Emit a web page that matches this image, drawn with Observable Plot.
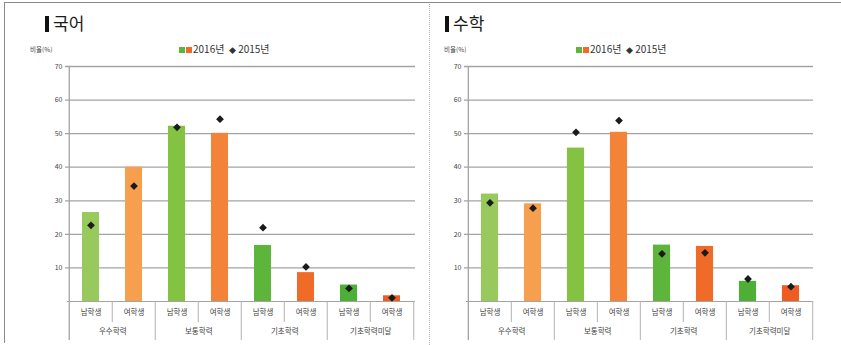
<!DOCTYPE html>
<html>
<head>
<meta charset="utf-8">
<script src="https://cdn.jsdelivr.net/npm/d3@7"></script>
<script src="https://cdn.jsdelivr.net/npm/@observablehq/plot@0.6"></script>
<style>
  html, body { margin: 0; padding: 0; background: #fff; }
  #wrap { position: relative; width: 841px; height: 345px; overflow: hidden; background: #fff;
          font-family: "Noto Sans CJK KR", "Noto Sans", sans-serif; color: #333; }
  .abs { position: absolute; }
  .title { font-size: 17px; color: #1a1a1a; line-height: 20px; white-space: nowrap; }
  .title .bar { display: inline-block; width: 4px; height: 16px; background: #111; vertical-align: -2px; margin-right: 4px; }
  .legend { font-size: 10px; color: #333; line-height: 12px; white-space: nowrap; }
  .legend .sq { display: inline-block; width: 6px; height: 6px; vertical-align: 0px; margin-right: 1px; }
  .ylab { font-size: 6.5px; color: #444; white-space: nowrap; }
</style>
</head>
<body>
<div id="wrap">
  <div class="abs" style="left:4px;top:2px;width:837px;height:1px;background:#8a8a8a"></div>
  <div class="abs" style="left:4px;top:2px;width:1px;height:341px;background:#8a8a8a"></div>
  <div class="abs" style="left:429px;top:4px;width:0;height:341px;border-left:1px dotted #b5b5b5"></div>
  <div id="left" class="abs" style="left:0;top:0"></div>
  <div id="right" class="abs" style="left:428px;top:0"></div>
</div>
<script>
// ---- data ----
const groups = ["우수학력", "보통학력", "기초학력", "기초학력미달"];
const genders = ["남학생", "여학생"];
const yTicks = [10, 20, 30, 40, 50, 60, 70];
const panelTitles = ["국어", "수학"];
const legendLabels = ["2016년", "2015년"];
const yLabel = "비율(%)";
// order: 우수 남, 우수 여, 보통 남, 보통 여, 기초 남, 기초 여, 미달 남, 미달 여
const korean2016 = [26.5, 40.0, 52.2, 50.1, 16.7, 8.6, 4.9, 1.7];
const korean2015 = [22.7, 34.4, 51.9, 54.3, 22.0, 10.3, 3.9, 1.1];
const math2016 = [32.0, 29.1, 45.7, 50.4, 16.8, 16.4, 6.0, 4.7];
const math2015 = [29.4, 27.8, 50.4, 53.9, 14.2, 14.5, 6.7, 4.4];

// ---- styles ----
const barColors = ["#97c95c", "#f6a04f", "#84c342", "#f28339", "#5db53b", "#f06b27", "#4eaf37", "#ee5c22"];
const legendGreen = "#5db53b", legendOrange = "#f06b27";
const FONT = '"Noto Sans CJK KR", "Noto Sans", sans-serif';

function buildRows(v16, v15) {
  const rows = [];
  groups.forEach((g, gi) => genders.forEach((s, si) => {
    const i = gi * genders.length + si;
    rows.push({key: g + "|" + s, group: g, gender: s, v16: v16[i], v15: v15[i], color: barColors[i]});
  }));
  return rows;
}

function panel(container, rows, W, ml, mr, title, titleLeft, legendLeft, ylabLeft) {
  const H = 345, mt = 66, mb = 44;
  const bw = (W - ml - mr) / rows.length;
  const barW = 17.5;
  const inset = (bw - barW) / 2;
  const starts = rows.filter(d => d.gender === genders[0]);
  const mids = rows.filter(d => d.gender === genders[1]);
  const last = rows[rows.length - 1];
  const lineColor = "#a3a3a3";
  const plot = Plot.plot({
    width: W, height: H,
    marginTop: mt, marginBottom: mb, marginLeft: ml, marginRight: mr,
    style: {fontFamily: FONT, fontSize: "7px", color: "#444", background: "transparent"},
    x: {type: "band", domain: rows.map(d => d.key), padding: 0, axis: null},
    y: {domain: [0, 70], ticks: yTicks, tickSize: 0, tickPadding: 5, label: null, tickFormat: d => d},
    marks: [
      Plot.ruleY(yTicks, {stroke: lineColor, strokeWidth: 1.3, insetLeft: -2}),
      Plot.ruleY([0], {stroke: lineColor, strokeWidth: 1.2}),
      // left axis line extending into label area
      Plot.ruleX([rows[0]], {x: "key", y1: 0, y2: 70, dx: -bw / 2, insetTop: 39, stroke: lineColor, strokeWidth: 1.3}),
      // group separators
      Plot.ruleX(starts.slice(1), {x: "key", y1: 0, y2: 0, dx: -bw / 2, insetTop: 39, stroke: "#b3b3b3", strokeWidth: 1}),
      Plot.ruleX([last], {x: "key", y1: 0, y2: 0, dx: bw / 2, insetTop: 39, stroke: "#b3b3b3", strokeWidth: 1}),
      // gender separators
      Plot.ruleX(mids, {x: "key", y1: 0, y2: 0, dx: -bw / 2, insetTop: 21, stroke: "#b3b3b3", strokeWidth: 1}),
      Plot.barY(rows, {x: "key", y: "v16", fill: "color", insetLeft: inset, insetRight: inset}),
      Plot.dot(rows, {x: "key", y: "v15", symbol: "diamond2", r: 3.5, fill: "#1b1b1b", stroke: "none"}),
      Plot.text(rows, {x: "key", text: "gender", frameAnchor: "bottom", dy: 13, fontSize: 7.5, fill: "#444"}),
      Plot.text(starts, {x: "key", text: "group", frameAnchor: "bottom", dx: bw / 2, dy: 32, fontSize: 7.5, fill: "#444"})
    ]
  });
  const el = document.getElementById(container);
  el.appendChild(plot);
  const wrap = document.getElementById("wrap");
  const t = document.createElement("div");
  t.className = "abs title";
  t.style.left = titleLeft + "px"; t.style.top = "13px";
  t.innerHTML = '<span class="bar"></span>' + title;
  wrap.appendChild(t);
  const lg = document.createElement("div");
  lg.className = "abs legend";
  lg.style.left = legendLeft + "px"; lg.style.top = "43px";
  lg.innerHTML = '<span class="sq" style="background:' + legendGreen + '"></span><span class="sq" style="background:' + legendOrange + '"></span>' +
    legendLabels[0] + '&nbsp; <span style="font-size:7px">◆</span> ' + legendLabels[1];
  wrap.appendChild(lg);
  const yl = document.createElement("div");
  yl.className = "abs ylab";
  yl.style.left = ylabLeft + "px"; yl.style.top = "44px";
  yl.textContent = yLabel;
  wrap.appendChild(yl);
}

panel("left", buildRows(korean2016, korean2015), 428, 67, 13, panelTitles[0], 45, 179, 30);
panel("right", buildRows(math2016, math2015), 413, 38, 28, panelTitles[1], 445, 576, 444);
</script>
</body>
</html>
